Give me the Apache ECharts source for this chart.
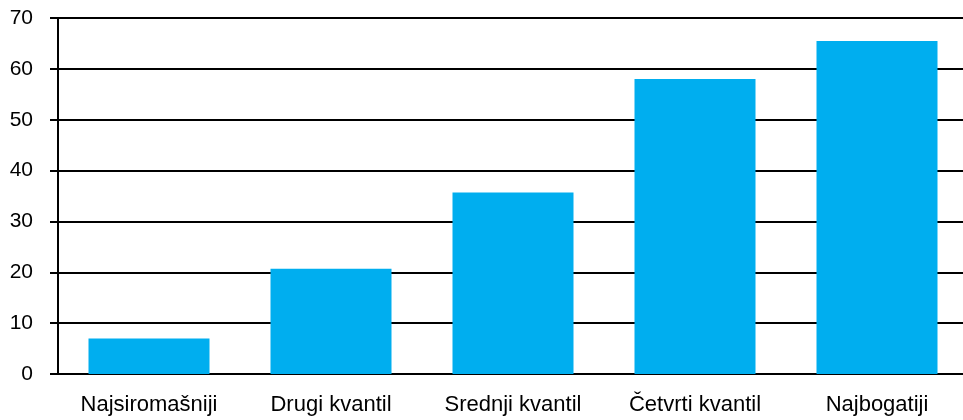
<!DOCTYPE html>
<html>
<head>
<meta charset="utf-8">
<script src="https://cdn.jsdelivr.net/npm/echarts@6/dist/echarts.min.js"></script>
<style>
  html,body{margin:0;padding:0;background:#fff;overflow:hidden;}
  #chart{width:972px;height:420px;}
</style>
</head>
<body>
<div id="chart"></div>
<script>
// kvantili
var categories = ['Najsiromašniji', 'Drugi kvantil', 'Srednji kvantil', 'Četvrti kvantil', 'Najbogatiji'];
var values = [7.0, 20.7, 35.7, 58.0, 65.5];

var chart = echarts.init(document.getElementById('chart'));
var option = {
  animation: false,
  grid: {
    left: 58,
    top: 18,
    width: 910,
    bottom: 46
  },
  xAxis: {
    type: 'category',
    data: categories,
    axisLine: { lineStyle: { color: '#000', width: 2 } },
    axisTick: { show: false },
    axisLabel: {
      color: '#000',
      fontSize: 22,
      fontFamily: 'Liberation Sans, Arial, sans-serif',
      margin: 20,
      interval: 0
    }
  },
  yAxis: {
    type: 'value',
    min: 0,
    max: 70,
    interval: 10,
    axisLine: { show: true, lineStyle: { color: '#000', width: 2 } },
    axisTick: { show: true, length: 8, lineStyle: { color: '#000', width: 2 } },
    splitLine: { lineStyle: { color: '#000', width: 2 } },
    axisLabel: {
      color: '#000',
      fontSize: 21,
      fontFamily: 'Liberation Sans, Arial, sans-serif',
      margin: 25
    }
  },
  series: [{
    type: 'bar',
    data: values,
    barWidth: 121,
    itemStyle: { color: '#00aeef' }
  }]
};
chart.setOption(option);
</script>
</body>
</html>
